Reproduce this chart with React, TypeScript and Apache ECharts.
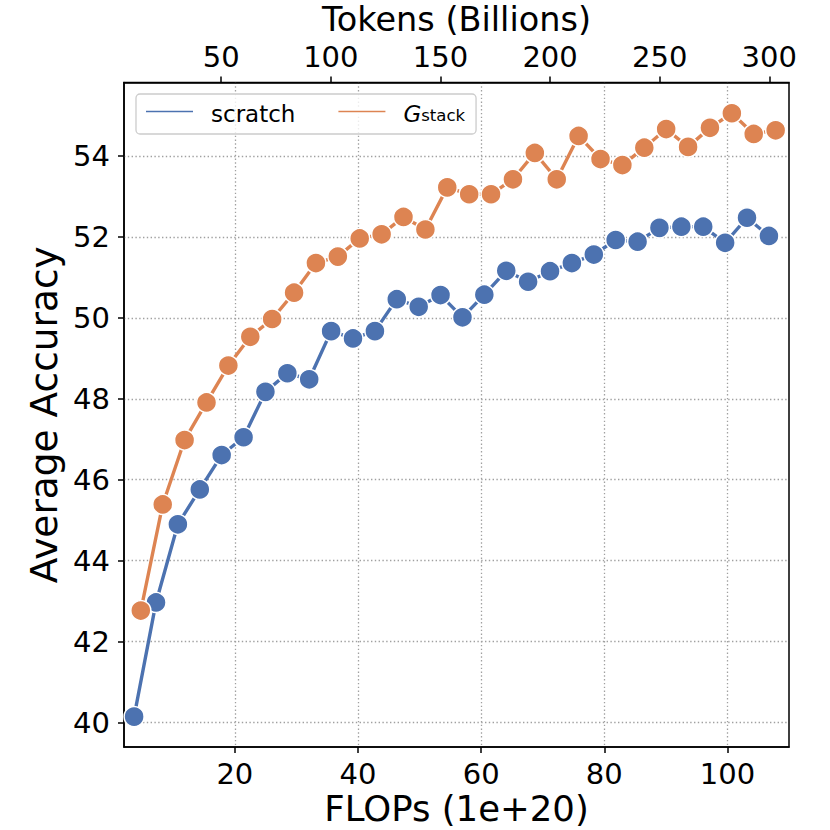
import React, { useEffect, useRef } from "react";
import * as echarts from "echarts";

// FLOPs (1e+20) positions of each evaluation point
const scratchFlops = [
  3.64, 7.2, 10.75, 14.31, 17.86, 21.42, 24.97, 28.53, 32.08, 35.64,
  39.19, 42.75, 46.3, 49.86, 53.41, 56.97, 60.52, 64.08, 67.63, 71.19,
  74.74, 78.3, 81.85, 85.41, 88.96, 92.52, 96.07, 99.63, 103.18, 106.74,
];
const scratchAcc = [
  40.15, 42.97, 44.9, 45.76, 46.61, 47.05, 48.17, 48.63, 48.48, 49.67,
  49.49, 49.67, 50.46, 50.27, 50.56, 50.01, 50.57, 51.16, 50.89, 51.15,
  51.35, 51.56, 51.92, 51.88, 52.22, 52.25, 52.25, 51.85, 52.47, 52.02,
];
const gstackFlops = [
  4.73, 8.29, 11.84, 15.4, 18.95, 22.51, 26.06, 29.62, 33.17, 36.73,
  40.28, 43.84, 47.39, 50.95, 54.5, 58.06, 61.61, 65.17, 68.72, 72.28,
  75.83, 79.39, 82.94, 86.5, 90.05, 93.61, 97.16, 100.72, 104.27, 107.83,
];
const gstackAcc = [
  42.77, 45.39, 46.98, 47.91, 48.82, 49.53, 49.97, 50.62, 51.35, 51.51,
  51.96, 52.06, 52.49, 52.18, 53.22, 53.05, 53.05, 53.42, 54.07, 53.42,
  54.49, 53.92, 53.77, 54.2, 54.66, 54.22, 54.69, 55.05, 54.54, 54.63,
];

const flopsTicks = [20, 40, 60, 80, 100];
const tokenTicks = [50, 100, 150, 200, 250, 300];
const accTicks = [40, 42, 44, 46, 48, 50, 52, 54];
const seriesNames = ["scratch", "Gstack"];

const BLUE = "#4c72b0";
const ORANGE = "#dd8452";
const FONT = "DejaVu Sans";

export default function App() {
  const ref = useRef<HTMLDivElement>(null);

  useEffect(() => {
    if (!ref.current) return;
    const chart = echarts.init(ref.current, undefined, { renderer: "svg" });

    const gridLine = {
      show: true,
      lineStyle: { color: "#a0a0a0", width: 1.3, type: [1.4, 2.4] as any },
    };

    const option: any = {
      animation: false,
      backgroundColor: "#ffffff",
      grid: {
        left: 124,
        right: 41,
        top: 82.5,
        bottom: 83,
        show: true,
        borderColor: "#000000",
        borderWidth: 1.5,
        backgroundColor: "transparent",
        containLabel: false,
        outerBoundsMode: "none",
      },
      legend: {
        data: seriesNames,
        left: 136,
        top: 94,
        orient: "horizontal",
        icon: "rect",
        itemWidth: 49,
        itemHeight: 3.5,
        itemGap: 41,
        padding: [4, 11, 9, 8],
        backgroundColor: "rgba(255,255,255,0.8)",
        borderColor: "#cccccc",
        borderWidth: 1.3,
        borderRadius: 4,
        selectedMode: false,
        formatter: (n: string) =>
          n === "Gstack" ? "{sp| }{g|G}{s|stack}" : "{sp| }{t|scratch}",
        textStyle: {
          fontFamily: FONT,
          fontSize: 23,
          color: "#000000",
          rich: {
            sp: { width: 12, fontSize: 23, lineHeight: 24, padding: [4, 0, 0, 0] },
            t: { fontSize: 23, lineHeight: 24, padding: [4, 0, 0, 0], fontFamily: FONT, color: "#000" },
            g: { fontSize: 23, lineHeight: 24, padding: [4, 0, 0, 0], fontStyle: "italic", fontFamily: FONT, color: "#000" },
            s: { fontSize: 16.5, lineHeight: 11, verticalAlign: "bottom", fontFamily: FONT, color: "#000" },
          },
        },
      },
      xAxis: [
        {
          type: "value",
          position: "bottom",
          min: 2,
          max: 110,
          name: "FLOPs (1e+20)",
          nameLocation: "middle",
          nameGap: 43,
          nameMoveOverlap: false,
          nameTextStyle: { fontFamily: FONT, fontSize: 35.5, color: "#000" },
          axisLine: { show: true, onZero: false, lineStyle: { color: "#000", width: 1.5 } },
          axisTick: {
            show: true,
            inside: false,
            length: 6,
            customValues: flopsTicks,
            lineStyle: { color: "#000", width: 1.5 },
          },
          axisLabel: {
            show: true,
            customValues: flopsTicks,
            margin: 12,
            fontFamily: FONT,
            fontSize: 29,
            color: "#000",
          },
          splitLine: gridLine,
        },
        {
          type: "value",
          position: "top",
          min: 5.65,
          max: 309,
          name: "Tokens (Billions)",
          nameLocation: "middle",
          nameGap: 45.7,
          nameMoveOverlap: false,
          nameTextStyle: { fontFamily: FONT, fontSize: 33.5, color: "#000" },
          axisLine: { show: true, onZero: false, lineStyle: { color: "#000", width: 1.5 } },
          axisTick: {
            show: true,
            inside: false,
            length: 6,
            customValues: tokenTicks,
            lineStyle: { color: "#000", width: 1.5 },
          },
          axisLabel: {
            show: true,
            customValues: tokenTicks,
            margin: 11,
            fontFamily: FONT,
            fontSize: 29,
            color: "#000",
          },
          splitLine: { show: false },
        },
      ],
      yAxis: {
        type: "value",
        min: 39.4,
        max: 55.81,
        name: "Average Accuracy",
        nameLocation: "middle",
        nameRotate: 90,
        nameGap: 61,
        nameMoveOverlap: false,
        nameTextStyle: { fontFamily: FONT, fontSize: 37.5, color: "#000" },
        axisLine: { show: true, onZero: false, lineStyle: { color: "#000", width: 1.5 } },
        axisTick: {
          show: true,
          inside: false,
          length: 6,
          customValues: accTicks,
          lineStyle: { color: "#000", width: 1.5 },
        },
        axisLabel: {
          show: true,
          customValues: accTicks,
          margin: 14,
          fontFamily: FONT,
          fontSize: 29,
          color: "#000",
        },
        splitLine: gridLine,
      },
      series: [
        {
          name: seriesNames[0],
          type: "line",
          xAxisIndex: 0,
          yAxisIndex: 0,
          data: scratchFlops.map((x, i) => [x, scratchAcc[i]]),
          symbol: "circle",
          symbolSize: 20,
          showSymbol: true,
          showAllSymbol: true,
          lineStyle: { color: BLUE, width: 3.4 },
          itemStyle: { color: BLUE, borderColor: "#ffffff", borderWidth: 1.5 },
          emphasis: { disabled: true },
          z: 2,
        },
        {
          name: seriesNames[1],
          type: "line",
          xAxisIndex: 0,
          yAxisIndex: 0,
          data: gstackFlops.map((x, i) => [x, gstackAcc[i]]),
          symbol: "circle",
          symbolSize: 20,
          showSymbol: true,
          showAllSymbol: true,
          lineStyle: { color: ORANGE, width: 3.4 },
          itemStyle: { color: ORANGE, borderColor: "#ffffff", borderWidth: 1.5 },
          emphasis: { disabled: true },
          z: 3,
        },
      ],
    };

    chart.setOption(option);
    return () => {
      chart.dispose();
    };
  }, []);

  return (
    <div
      ref={ref}
      style={{ position: "fixed", left: 0, top: 0, width: 830, height: 830, background: "#fff" }}
    />
  );
}
